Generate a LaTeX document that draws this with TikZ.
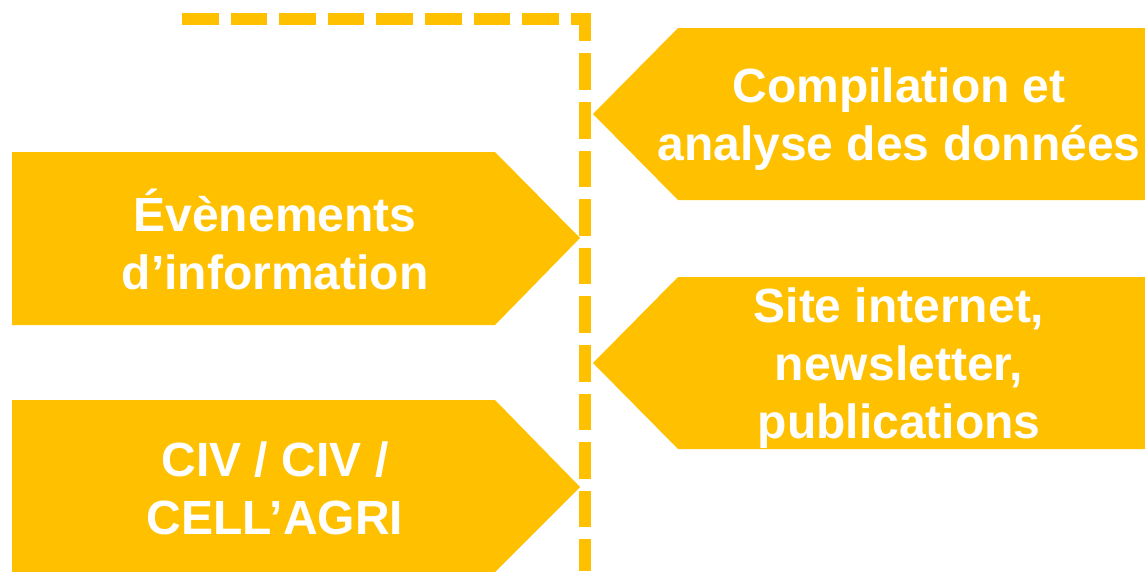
\documentclass[tikz,border=0pt]{standalone}
\usepackage{fontspec}
\setmainfont{Liberation Sans}
\usetikzlibrary{calc}
\definecolor{gold}{HTML}{FFC000}
\tikzset{
  panel/.style={fill=gold},
  divider/.style={draw=gold, line width=12pt, dash pattern=on 36.6pt off 12pt, line cap=butt, line join=miter},
  lab/.style={text=white, font=\fontsize{48}{58}\selectfont\bfseries, align=center, inner sep=0pt},
}
\begin{document}
\begin{tikzpicture}[x=1pt,y=-1pt]
  \useasboundingbox (0,0) rectangle (1145,571);
  % dashed divider
  \coordinate (start) at (182,19);
  \coordinate (corner) at (585,19);
  \coordinate (foot) at (585,571);
  \draw[divider] (start) -- (corner) -- (foot);
  % left panels
  \fill[panel] (12,152) -- (495,152) -- (580,238) -- (495,325) -- (12,325) -- cycle;
  \fill[panel] (12,400) -- (495,400) -- (580,487) -- (493,574) -- (12,574) -- cycle;
  % right panels
  \fill[panel] (1145,28) -- (678,28) -- (593,114) -- (678,200) -- (1145,200) -- cycle;
  \fill[panel] (1145,277) -- (678,277) -- (593,363) -- (678,449) -- (1145,449) -- cycle;
  % labels
  \node[lab] (events) at (275,239) {Évènements\\d’information};
  \node[lab] (civ) at (275,488) {CIV / CIV /\\CELL’AGRI};
  \node[lab] (compil) at (899,119) {Compilation et\\analyse des données};
  \node[lab] (site) at (899,368) {Site internet,\\newsletter,\\publications};
\end{tikzpicture}
\end{document}
